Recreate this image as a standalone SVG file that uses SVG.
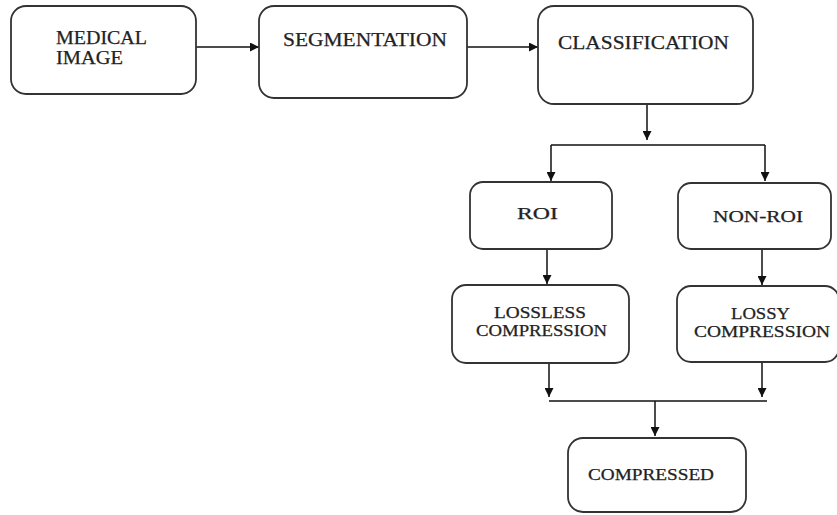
<svg xmlns="http://www.w3.org/2000/svg" width="837" height="515" viewBox="0 0 837 515">
<style>
.box{fill:#fff;stroke:#333;stroke-width:1.8}
.t{font-family:"Liberation Serif","Times New Roman",serif;fill:#222;stroke:#222;stroke-width:0.25}
.big{font-size:19px}
.sm{font-size:16px}
.c{fill:none;stroke:#111;stroke-width:1.5}
</style>
<defs>
<marker id="ah" viewBox="0 0 10 10" refX="10" refY="5" markerWidth="9" markerHeight="9" markerUnits="userSpaceOnUse" orient="auto">
<path d="M0,0 L10,5 L0,10 z" fill="#111"/>
</marker>
</defs>
<rect width="837" height="515" fill="#fff"/>
<g id="connectors">
<line class="c" x1="196" y1="47" x2="259" y2="47" marker-end="url(#ah)"/>
<line class="c" x1="467" y1="47" x2="538" y2="47" marker-end="url(#ah)"/>
<line class="c" x1="647" y1="104" x2="647" y2="140" marker-end="url(#ah)"/>
<line class="c" x1="551" y1="145" x2="765" y2="145"/>
<line class="c" x1="551" y1="145" x2="551" y2="181" marker-end="url(#ah)"/>
<line class="c" x1="765" y1="145" x2="765" y2="181" marker-end="url(#ah)"/>
<line class="c" x1="547" y1="249" x2="547" y2="284" marker-end="url(#ah)"/>
<line class="c" x1="762" y1="249" x2="762" y2="285" marker-end="url(#ah)"/>
<line class="c" x1="549" y1="363" x2="549" y2="397" marker-end="url(#ah)"/>
<line class="c" x1="762" y1="362" x2="762" y2="397" marker-end="url(#ah)"/>
<line class="c" x1="549" y1="401" x2="767" y2="401"/>
<line class="c" x1="655" y1="401" x2="655" y2="436" marker-end="url(#ah)"/>
</g>
<g id="medical-image">
<rect class="box" x="11" y="6" width="185" height="88" rx="15"/>
<text class="t big" x="56" y="44" textLength="91" lengthAdjust="spacingAndGlyphs">MEDICAL</text>
<text class="t big" x="56" y="64" textLength="67" lengthAdjust="spacingAndGlyphs">IMAGE</text>
</g>
<g id="segmentation">
<rect class="box" x="259" y="6" width="208" height="92" rx="15"/>
<text class="t big" x="283" y="46" textLength="164" lengthAdjust="spacingAndGlyphs">SEGMENTATION</text>
</g>
<g id="classification">
<rect class="box" x="538" y="6" width="215" height="98" rx="16"/>
<text class="t big" x="558" y="49" textLength="171" lengthAdjust="spacingAndGlyphs">CLASSIFICATION</text>
</g>
<g id="roi">
<rect class="box" x="470" y="182" width="142" height="67" rx="13"/>
<text class="t sm" x="517" y="219" textLength="41" lengthAdjust="spacingAndGlyphs">ROI</text>
</g>
<g id="non-roi">
<rect class="box" x="678" y="183" width="153" height="66" rx="13"/>
<text class="t sm" x="713" y="222" textLength="90" lengthAdjust="spacingAndGlyphs">NON-ROI</text>
</g>
<g id="lossless">
<rect class="box" x="452" y="285" width="177" height="78" rx="14"/>
<text class="t sm" x="494" y="318" textLength="92" lengthAdjust="spacingAndGlyphs">LOSSLESS</text>
<text class="t sm" x="476" y="336" textLength="131" lengthAdjust="spacingAndGlyphs">COMPRESSION</text>
</g>
<g id="lossy">
<rect class="box" x="677" y="286" width="162" height="76" rx="14"/>
<text class="t sm" x="731" y="319" textLength="59" lengthAdjust="spacingAndGlyphs">LOSSY</text>
<text class="t sm" x="694" y="337" textLength="136" lengthAdjust="spacingAndGlyphs">COMPRESSION</text>
</g>
<g id="compressed">
<rect class="box" x="568" y="438" width="178" height="74" rx="15"/>
<text class="t sm" x="588" y="480" textLength="126" lengthAdjust="spacingAndGlyphs">COMPRESSED</text>
</g>
</svg>
